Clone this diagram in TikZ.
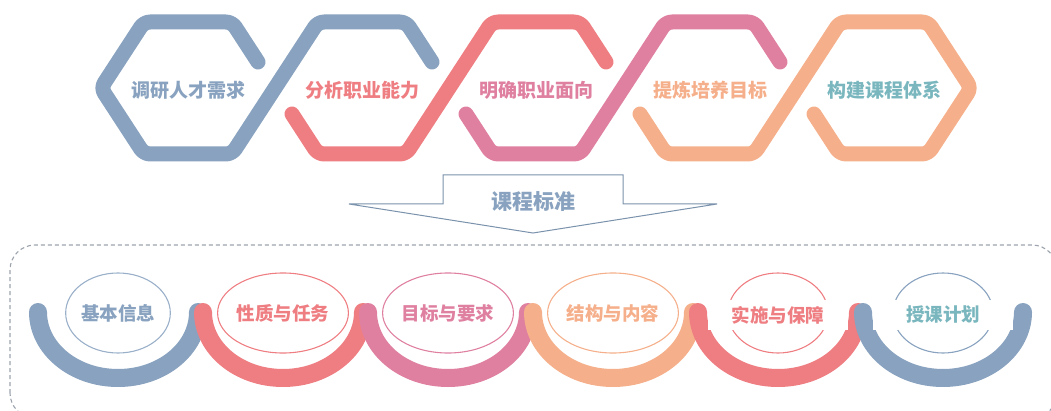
\documentclass[tikz,border=0pt]{standalone}
\usepackage{fontspec}
\setmainfont{Noto Sans CJK SC}
\usetikzlibrary{shapes.geometric}
\definecolor{hexblue}{HTML}{88A2BF}
\definecolor{hexred}{HTML}{EE7E82}
\definecolor{hexpink}{HTML}{DF80A1}
\definecolor{hexorange}{HTML}{F5AF8B}
\definecolor{textteal}{HTML}{79B6BE}
\definecolor{dashgray}{HTML}{9CA3AD}
\tikzset{
  % Specifications for style of strokes and nodes:
        band/.style = {line width=15pt, line cap=round, line join=round,
                       rounded corners=6pt},
    halfring/.style = {line width=18pt, line cap=round},
   steplabel/.style = {inner sep=0pt, font=\fontsize{19}{19}\selectfont\bfseries},
       topic/.style = {ellipse, draw=#1, line width=1.1pt, minimum width=100pt,
                       minimum height=80pt, inner sep=0pt,
                       font=\fontsize{18.5}{18.5}\selectfont\bfseries},
       cover/.style = {fill=white, minimum width=140pt, minimum height=30pt,
                       inner sep=0pt, font=\fontsize{18.5}{18.5}\selectfont\bfseries},
   downarrow/.style = {draw=hexblue!90!black, line width=1pt, fill=white},
    dashedbox/.style = {draw=dashgray, line width=1.1pt, dash pattern=on 4pt off 3pt,
                       rounded corners=25pt},
}

\begin{document}
\begin{tikzpicture}[x=1pt, y=1pt]
    \useasboundingbox (0,0) rectangle (1051,410);

    % Chain of hexagons
    \draw[band, hexblue]   (258,348) -- (232,388) -- (144,388) -- (101,322) -- (144,256)
                           -- (232,256) -- (318,388) -- (406,388) -- (432,348);
    \draw[band, hexred]    (292,296) -- (318,256) -- (406,256) -- (492,388) -- (580,388)
                           -- (606,348);
    \draw[band, hexpink]   (466,296) -- (492,256) -- (580,256) -- (666,388) -- (754,388)
                           -- (780,348);
    \draw[band, hexorange] (640,296) -- (666,256) -- (754,256) -- (840,388) -- (928,388)
                           -- (971,322) -- (928,256) -- (840,256) -- (814,296);

    \node (survey)   [steplabel, text=hexblue]   at (188,320) {调研人才需求};
    \node (ability)  [steplabel, text=hexred]    at (362,320) {分析职业能力};
    \node (career)   [steplabel, text=hexpink]   at (536,320) {明确职业面向};
    \node (goal)     [steplabel, text=hexorange] at (710,320) {提炼培养目标};
    \node (system)   [steplabel, text=textteal]  at (884,320) {构建课程体系};

    % Arrow down to the standard
    \draw[downarrow] (443,206) -- (443,235) -- (623,235) -- (623,206) -- (717,206)
                     -- (533,177) -- (349,206) -- cycle;
    \node (standard) [steplabel, text=hexblue, font=\fontsize{21}{21}\selectfont\bfseries]
                                                 at (533,208) {课程标准};

    % Frame and half rings
    \draw[dashedbox] (10,-8) rectangle (1057,165);

    \draw[halfring, hexblue]   (38,98)  arc[start angle=180, end angle=360, x radius=80, y radius=66];
    \draw[halfring, hexred]    (203,98) arc[start angle=180, end angle=360, x radius=80, y radius=66];
    \draw[halfring, hexpink]   (368,98) arc[start angle=180, end angle=360, x radius=80, y radius=66];
    \draw[halfring, hexorange] (533,98) arc[start angle=180, end angle=360, x radius=80, y radius=66];
    \draw[halfring, hexred]    (698,98) arc[start angle=180, end angle=360, x radius=80, y radius=66];
    \draw[halfring, hexblue]   (863,98) arc[start angle=180, end angle=360, x radius=80, y radius=66];

    \node (info)      [topic=hexblue!85, text=hexblue]     at (118,97) {基本信息};
    \node (nature)    [topic=hexred,     text=hexred]      at (283,97) {性质与任务};
    \node (require)   [topic=hexpink,    text=hexpink]     at (448,97) {目标与要求};
    \node (content)   [topic=hexorange,  text=hexorange]   at (613,97) {结构与内容};
    \node (guarantee) [topic=hexred]                       at (778,97) {};
    \node (plan)      [topic=hexblue]                      at (943,97) {};
    \node (guaranteeText) [cover, text=hexred]   at (778,95) {实施与保障};
    \node (planText)      [cover, text=textteal] at (943,95) {授课计划};

\end{tikzpicture}
\end{document}
